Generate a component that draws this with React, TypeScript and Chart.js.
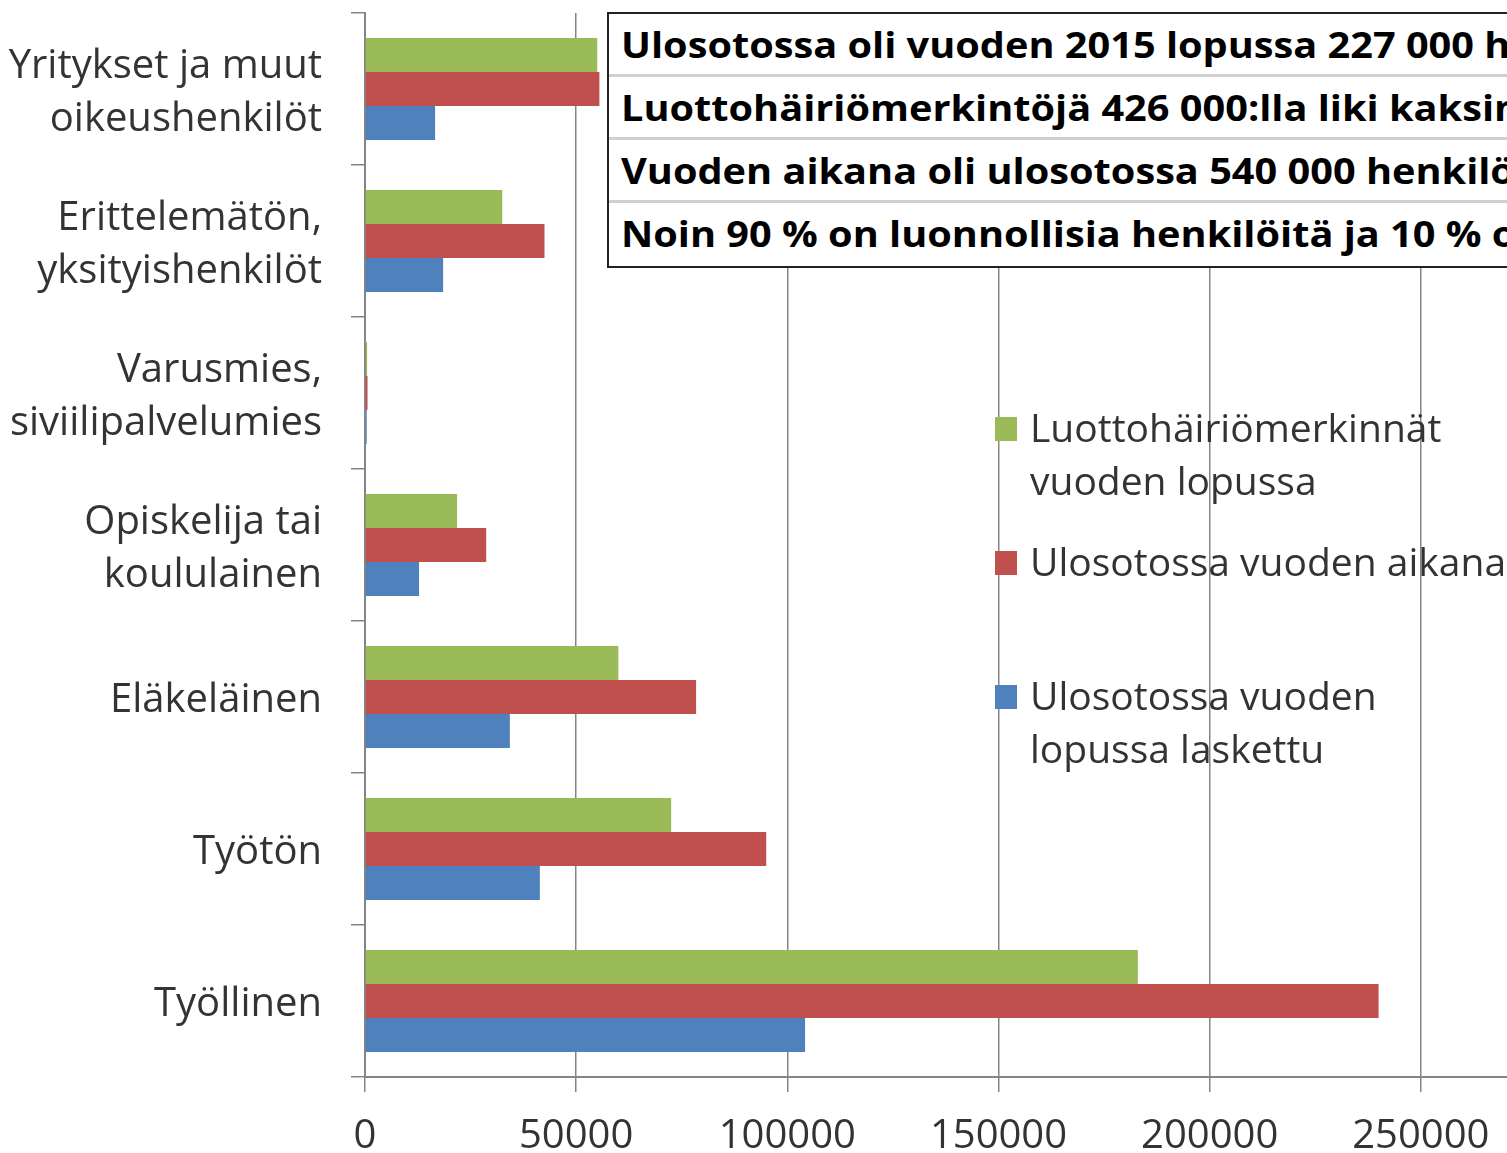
import React, { useEffect, useRef } from "react";
import { Chart, registerables } from "chart.js";

Chart.register(...registerables);

const categories: string[][] = [
  ["Yritykset ja muut", "oikeushenkilöt"],
  ["Erittelemätön,", "yksityishenkilöt"],
  ["Varusmies,", "siviilipalvelumies"],
  ["Opiskelija tai", "koululainen"],
  ["Eläkeläinen"],
  ["Työtön"],
  ["Työllinen"],
];

const luottohairiot = [55000, 32500, 500, 21800, 60000, 72500, 183000];
const ulosottoVuodenAikana = [55500, 42500, 600, 28700, 78400, 95000, 240000];
const ulosottoVuodenLopussa = [16600, 18500, 400, 12800, 34300, 41400, 104200];

const seriesNames: string[][] = [
  ["Luottohäiriömerkinnät", "vuoden lopussa"],
  ["Ulosotossa vuoden aikana"],
  ["Ulosotossa vuoden", "lopussa laskettu"],
];
const seriesColors = ["#9BBB59", "#C0504D", "#4F81BD"];

const infoLines = [
  "Ulosotossa oli vuoden 2015 lopussa 227 000 henkilöä",
  "Luottohäiriömerkintöjä 426 000:lla liki kaksinkertainen määrä",
  "Vuoden aikana oli ulosotossa 540 000 henkilöä",
  "Noin 90 % on luonnollisia henkilöitä ja 10 % oikeushenkilöitä",
];

const X_MIN = 0;
const X_MAX = 300000;
const X_STEP = 50000;

const FONT = "'Open Sans', 'DejaVu Sans', sans-serif";

const legendPlugin = {
  id: "insideLegend",
  afterDatasetsDraw(chart: any) {
    const ctx = chart.ctx;
    const x0 = 995;
    const rows = [431, 565, 699];
    const lineH = 53;
    ctx.save();
    ctx.font = `39px ${FONT}`;
    ctx.textBaseline = "middle";
    ctx.textAlign = "left";
    seriesNames.forEach((lines, i) => {
      const y = rows[i];
      ctx.fillStyle = seriesColors[i];
      ctx.fillRect(x0, y - 14, 22, 24);
      ctx.fillStyle = "#333333";
      lines.forEach((ln, j) => {
        ctx.fillText(ln, x0 + 35, y + j * lineH);
      });
    });
    ctx.restore();
  },
};

export default function App() {
  const canvasRef = useRef<HTMLCanvasElement | null>(null);

  useEffect(() => {
    const canvas = canvasRef.current;
    if (!canvas) return;
    const chart = new Chart(canvas, {
      type: "bar",
      data: {
        labels: categories as any,
        datasets: [
          {
            label: seriesNames[0].join(" "),
            data: luottohairiot,
            backgroundColor: seriesColors[0],
          },
          {
            label: seriesNames[1].join(" "),
            data: ulosottoVuodenAikana,
            backgroundColor: seriesColors[1],
          },
          {
            label: seriesNames[2].join(" "),
            data: ulosottoVuodenLopussa,
            backgroundColor: seriesColors[2],
          },
        ],
      },
      options: {
        indexAxis: "y",
        responsive: false,
        animation: false,
        devicePixelRatio: 1,
        layout: { padding: { top: 13, right: 8, left: 0, bottom: 0 } },
        datasets: {
          bar: { categoryPercentage: 0.67, barPercentage: 1.0 },
        },
        plugins: {
          legend: { display: false },
          tooltip: { enabled: false },
        },
        scales: {
          x: {
            type: "linear",
            min: X_MIN,
            max: X_MAX,
            ticks: {
              stepSize: X_STEP,
              color: "#333333",
              font: { family: FONT, size: 40 },
              padding: 21,
              callback: (v: any) => (v === X_MAX ? "" : String(v)),
            },
            grid: {
              color: "#858585",
              lineWidth: 1.5,
              drawTicks: true,
              tickLength: 15,
            },
            border: { color: "#858585", width: 2 },
            afterFit: (scale: any) => {
              scale.height = 76;
              scale.paddingLeft = 0;
              scale.paddingRight = 0;
            },
          },
          y: {
            type: "category",
            ticks: {
              color: "#333333",
              font: { family: FONT, size: 40, lineHeight: 1.33 },
              padding: 29,
              labelOffset: 4,
              crossAlign: "near",
            },
            grid: {
              offset: true,
              drawOnChartArea: false,
              drawTicks: true,
              tickLength: 14,
              color: "#858585",
              lineWidth: 1.5,
            },
            border: { color: "#858585", width: 2 },
            afterFit: (scale: any) => {
              scale.width = 365;
              scale.paddingTop = 0;
              scale.paddingBottom = 0;
            },
          },
        },
      },
      plugins: [legendPlugin],
    });
    return () => chart.destroy();
  }, []);

  return (
    <div
      style={{
        position: "fixed",
        left: 0,
        top: 0,
        width: 1507,
        height: 1153,
        overflow: "hidden",
        background: "#ffffff",
      }}
    >
      <canvas
        ref={canvasRef}
        width={1640}
        height={1153}
        style={{ width: 1640, height: 1153, display: "block" }}
      />
      <div
        style={{
          position: "absolute",
          left: 607,
          top: 12,
          width: 1100,
          height: 256,
          border: "2px solid #222222",
          background: "#ffffff",
          boxSizing: "border-box",
          fontFamily: FONT,
          fontWeight: 700,
          fontSize: 39.7,
          color: "#000000",
          whiteSpace: "nowrap",
        }}
      >
        {infoLines.map((t, i) => (
          <div
            key={i}
            style={{
              height: i < 3 ? 60 : 62,
              lineHeight: "60px",
              paddingLeft: 12,
              borderBottom: i < 3 ? "3px solid #d0d0d0" : "none",
              boxSizing: "content-box",
              overflow: "hidden",
            }}
          >
            <span
              style={{
                display: "inline-block",
                transform: "scaleY(0.92)",
                transformOrigin: "center",
              }}
            >
              {t}
            </span>
          </div>
        ))}
      </div>
    </div>
  );
}
